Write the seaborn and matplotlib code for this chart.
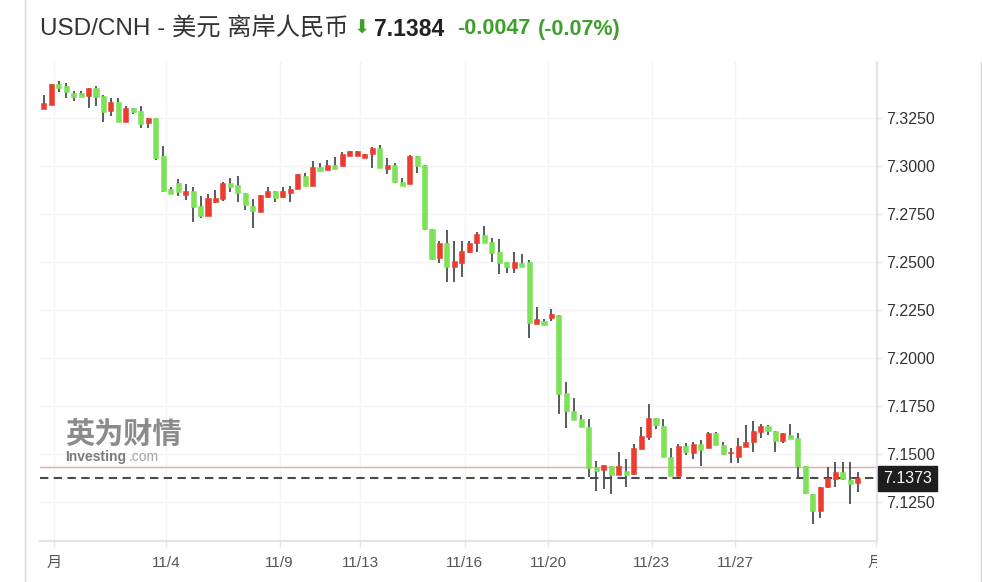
import matplotlib
matplotlib.use("Agg")
import matplotlib.pyplot as plt
import numpy as np
import pandas as pd
import seaborn as sns
from matplotlib.lines import Line2D
from matplotlib.transforms import Bbox, TransformedBbox, blended_transform_factory

# --------------------------------------------------------------
# Data
# --------------------------------------------------------------

opens = [
    7.3296, 7.3318, 7.3427, 7.3418, 7.3379, 7.3379, 7.3366, 7.3405, 7.3365, 7.3288,
    7.3332, 7.3231, 7.3301, 7.3288, 7.3226, 7.3248, 7.3052, 7.2880, 7.2910, 7.2849,
    7.2871, 7.2793, 7.2741, 7.2811, 7.2829, 7.2910, 7.2901, 7.2858, 7.2793, 7.2762,
    7.2840, 7.2871, 7.2840, 7.2858, 7.2880, 7.2950, 7.2896, 7.2996, 7.2981, 7.3005,
    7.3000, 7.3054, 7.3054, 7.3040, 7.3063, 7.3092, 7.2983, 7.3005, 7.2918, 7.2905,
    7.3052, 7.3005, 7.2670, 7.2519, 7.2600, 7.2475, 7.2496, 7.2554, 7.2600, 7.2641,
    7.2606, 7.2551, 7.2498, 7.2467, 7.2496, 7.2498, 7.2177, 7.2193, 7.2210, 7.2224,
    7.1816, 7.1724, 7.1682, 7.1639, 7.1434, 7.1417, 7.1440, 7.1391, 7.1413, 7.1396,
    7.1526, 7.1590, 7.1686, 7.1646, 7.1483, 7.1385, 7.1544, 7.1507, 7.1552, 7.1530,
    7.1608, 7.1547, 7.1507, 7.1483, 7.1538, 7.1561, 7.1616, 7.1648, 7.1622, 7.1569,
    7.1599, 7.1585, 7.1439, 7.1292, 7.1203, 7.1327, 7.1368, 7.1405, 7.1365, 7.1351,
]
highs = [
    7.3370, 7.3427, 7.3443, 7.3431, 7.3392, 7.3392, 7.3408, 7.3417, 7.3370, 7.3353,
    7.3353, 7.3314, 7.3301, 7.3314, 7.3252, 7.3252, 7.3104, 7.2892, 7.2931, 7.2906,
    7.2892, 7.2845, 7.2854, 7.2875, 7.2918, 7.2936, 7.2948, 7.2858, 7.2828, 7.2849,
    7.2892, 7.2871, 7.2892, 7.2897, 7.2958, 7.2962, 7.3026, 7.3014, 7.3031, 7.3047,
    7.3071, 7.3078, 7.3078, 7.3061, 7.3101, 7.3109, 7.3040, 7.3014, 7.2940, 7.3057,
    7.3052, 7.3005, 7.2670, 7.2609, 7.2667, 7.2609, 7.2611, 7.2611, 7.2658, 7.2689,
    7.2623, 7.2618, 7.2498, 7.2554, 7.2542, 7.2510, 7.2267, 7.2203, 7.2253, 7.2224,
    7.1877, 7.1790, 7.1703, 7.1681, 7.1465, 7.1443, 7.1440, 7.1509, 7.1472, 7.1552,
    7.1642, 7.1761, 7.1686, 7.1681, 7.1533, 7.1550, 7.1556, 7.1564, 7.1573, 7.1613,
    7.1613, 7.1564, 7.1530, 7.1582, 7.1651, 7.1674, 7.1656, 7.1651, 7.1622, 7.1608,
    7.1656, 7.1611, 7.1439, 7.1292, 7.1327, 7.1431, 7.1460, 7.1457, 7.1457, 7.1408,
]
lows = [
    7.3296, 7.3318, 7.3387, 7.3356, 7.3339, 7.3359, 7.3301, 7.3314, 7.3231, 7.3262,
    7.3231, 7.3231, 7.3269, 7.3196, 7.3196, 7.3031, 7.2866, 7.2853, 7.2845, 7.2823,
    7.2707, 7.2731, 7.2741, 7.2806, 7.2818, 7.2863, 7.2814, 7.2771, 7.2676, 7.2762,
    7.2832, 7.2814, 7.2832, 7.2814, 7.2880, 7.2896, 7.2896, 7.2976, 7.2981, 7.2984,
    7.3000, 7.3054, 7.3054, 7.3040, 7.2988, 7.2988, 7.2957, 7.2910, 7.2898, 7.2905,
    7.2965, 7.2667, 7.2510, 7.2493, 7.2398, 7.2398, 7.2420, 7.2545, 7.2551, 7.2597,
    7.2502, 7.2436, 7.2441, 7.2441, 7.2475, 7.2106, 7.2177, 7.2172, 7.2193, 7.1708,
    7.1637, 7.1677, 7.1639, 7.1379, 7.1309, 7.1316, 7.1292, 7.1391, 7.1330, 7.1391,
    7.1524, 7.1573, 7.1629, 7.1483, 7.1385, 7.1385, 7.1495, 7.1472, 7.1439, 7.1530,
    7.1547, 7.1495, 7.1455, 7.1455, 7.1538, 7.1513, 7.1584, 7.1599, 7.1513, 7.1559,
    7.1578, 7.1377, 7.1292, 7.1135, 7.1165, 7.1322, 7.1330, 7.1365, 7.1240, 7.1300,
]
closes = [
    7.3327, 7.3427, 7.3408, 7.3384, 7.3361, 7.3359, 7.3405, 7.3361, 7.3283, 7.3332,
    7.3231, 7.3304, 7.3283, 7.3217, 7.3248, 7.3043, 7.2871, 7.2853, 7.2866, 7.2871,
    7.2788, 7.2741, 7.2832, 7.2832, 7.2910, 7.2889, 7.2858, 7.2797, 7.2766, 7.2849,
    7.2871, 7.2835, 7.2871, 7.2880, 7.2958, 7.2896, 7.2996, 7.2976, 7.3005, 7.2984,
    7.3061, 7.3078, 7.3078, 7.3061, 7.3092, 7.2992, 7.3005, 7.2918, 7.2898, 7.3052,
    7.3000, 7.2670, 7.2516, 7.2600, 7.2475, 7.2505, 7.2559, 7.2597, 7.2646, 7.2600,
    7.2549, 7.2493, 7.2475, 7.2498, 7.2475, 7.2181, 7.2201, 7.2172, 7.2229, 7.1813,
    7.1726, 7.1677, 7.1639, 7.1425, 7.1413, 7.1443, 7.1391, 7.1440, 7.1391, 7.1530,
    7.1594, 7.1686, 7.1651, 7.1483, 7.1385, 7.1544, 7.1513, 7.1552, 7.1521, 7.1608,
    7.1547, 7.1500, 7.1507, 7.1544, 7.1561, 7.1622, 7.1648, 7.1622, 7.1569, 7.1608,
    7.1578, 7.1439, 7.1295, 7.1203, 7.1327, 7.1373, 7.1405, 7.1368, 7.1344, 7.1373,
]

# x tick positions are in candle-index units (day boundaries fall between candles)
x_tick_pos = [1.38, 16.4, 31.6, 42.4, 56.4, 67.6, 81.4, 92.6, 111.4]
x_tick_labels = ["月", "11/4", "11/9", "11/13", "11/16", "11/20", "11/23", "11/27", "月"]
y_ticks = [7.125, 7.150, 7.175, 7.200, 7.225, 7.250, 7.275, 7.300, 7.325]

last_price = 7.1373
prev_close = 7.1431

title_name = "USD/CNH - 美元 离岸人民币"
quote_price = "7.1384"
quote_change = "-0.0047"
quote_pct = "(-0.07%)"

# --------------------------------------------------------------
# Styling
# --------------------------------------------------------------

RED = "#ec3b2f"
GREEN = "#7de257"
WICK = "#4a4d52"
QUOTE_GREEN = "#3e9f2c"
AXIS = "#e1e4ea"
GRID = "#f4f4f6"
DARK = "#333333"
GREY = "#555555"

sns.set_theme(style="white")
plt.rcParams["font.family"] = ["Liberation Sans", "Noto Sans CJK SC", "DejaVu Sans"]

W, H = 982, 582


def fx(px):
    return px / W


def fy(py):
    return 1 - py / H


df = pd.DataFrame({"open": opens, "high": highs, "low": lows, "close": closes})
df["idx"] = np.arange(len(df))
df["bottom"] = df[["open", "close"]].min(axis=1)
df["height"] = (df["close"] - df["open"]).abs().clip(lower=0.0006)
df["color"] = np.where(df["close"] >= df["open"], RED, GREEN)

# --------------------------------------------------------------
# Plot
# --------------------------------------------------------------

fig = plt.figure(figsize=(W / 100, H / 100), dpi=100)
ax = fig.add_axes([fx(40), 41 / H, 837 / W, 479 / H])

ax.vlines(df["idx"], df["low"], df["high"], color=WICK, linewidth=1.3, zorder=2)
ax.bar(
    df["idx"],
    df["height"],
    bottom=df["bottom"],
    width=0.68,
    color=df["color"],
    edgecolor=df["color"],
    linewidth=0.4,
    zorder=3,
)

# previous close and last price lines
ax.axhline(prev_close, color="#f5a3a3", linewidth=1.0, zorder=1.5)
ax.axhline(last_price, color="#4a4a4a", linewidth=1.5, dashes=(4, 2.6), zorder=1.6)

ax.set_xlim(-0.5, 111.6)
ax.set_ylim(7.1047, 7.3542)

# grid
ax.set_xticks(x_tick_pos, x_tick_labels)
ax.set_yticks(y_ticks, [f"{v:.4f}" for v in y_ticks])
ax.grid(True, color=GRID, linewidth=1.0, zorder=0)
ax.set_axisbelow(True)

ax.yaxis.tick_right()
sns.despine(ax=ax, left=True, top=True, right=False, bottom=False)
for side in ["right", "bottom"]:
    ax.spines[side].set_color(AXIS)
    ax.spines[side].set_linewidth(1.5)

ax.tick_params(axis="y", which="both", right=True, length=3, width=1, color=AXIS,
               pad=3.5, labelsize=11.5, labelcolor=DARK)
ax.tick_params(axis="x", which="both", bottom=True, length=4, width=1, color=AXIS,
               pad=7, labelsize=11, labelcolor=GREY)

# the last month label is cut off by the price axis
clip = TransformedBbox(Bbox([[0, 0], [fx(877), 1]]), fig.transFigure)
last_lbl = ax.get_xticklabels()[-1]
last_lbl.set_clip_box(clip)
last_lbl.set_clip_on(True)

# last price tag on the axis
trans = blended_transform_factory(ax.transAxes, ax.transData)
ax.text(
    1.0 + 6 / 837,
    last_price,
    f"{last_price:.4f}",
    transform=trans,
    ha="left",
    va="center",
    fontsize=11.5,
    color="white",
    bbox=dict(boxstyle="square,pad=0.3", facecolor="#1e1e1e", edgecolor="#1e1e1e"),
    zorder=10,
    clip_on=False,
)

# watermark
ax.text((65 - 40) / 837, (541 - 434) / 479, "英为财情", transform=ax.transAxes,
        fontsize=21, fontweight="bold", color="#8b8b8b", ha="left", va="center",
        family=["Noto Sans CJK SC"], zorder=1)
ax.text((65 - 40) / 837, (541 - 457) / 479, "Investing", transform=ax.transAxes,
        fontsize=10, fontweight="bold", color="#7a7a7a", ha="left", va="center", zorder=1)
ax.text((129 - 40) / 837, (541 - 457) / 479, ".com", transform=ax.transAxes,
        fontsize=10, color="#a5a5a5", ha="left", va="center", zorder=1)

# frame lines of the widget
fig.add_artist(Line2D([fx(24.5), fx(24.5)], [0, 1], color="#d9d9d9", linewidth=1))
fig.add_artist(Line2D([fx(981), fx(981)], [0, fy(62)], color="#d9d9d9", linewidth=1))

# header
fig.text(fx(40), fy(29), title_name, fontsize=17.5, color=DARK, ha="left", va="center")
fig.text(fx(362), fy(28), "⬇", fontsize=14, color=QUOTE_GREEN, ha="center", va="center",
         family=["DejaVu Sans"])
fig.text(fx(374), fy(29), quote_price, fontsize=16.5, fontweight="bold", color="#222222",
         ha="left", va="center")
fig.text(fx(457), fy(29), quote_change, fontsize=15.5, fontweight="bold", color=QUOTE_GREEN,
         ha="left", va="center")
fig.text(fx(538), fy(29), quote_pct, fontsize=15.5, fontweight="bold", color=QUOTE_GREEN,
         ha="left", va="center")

fig.savefig("out.png", dpi=100)
